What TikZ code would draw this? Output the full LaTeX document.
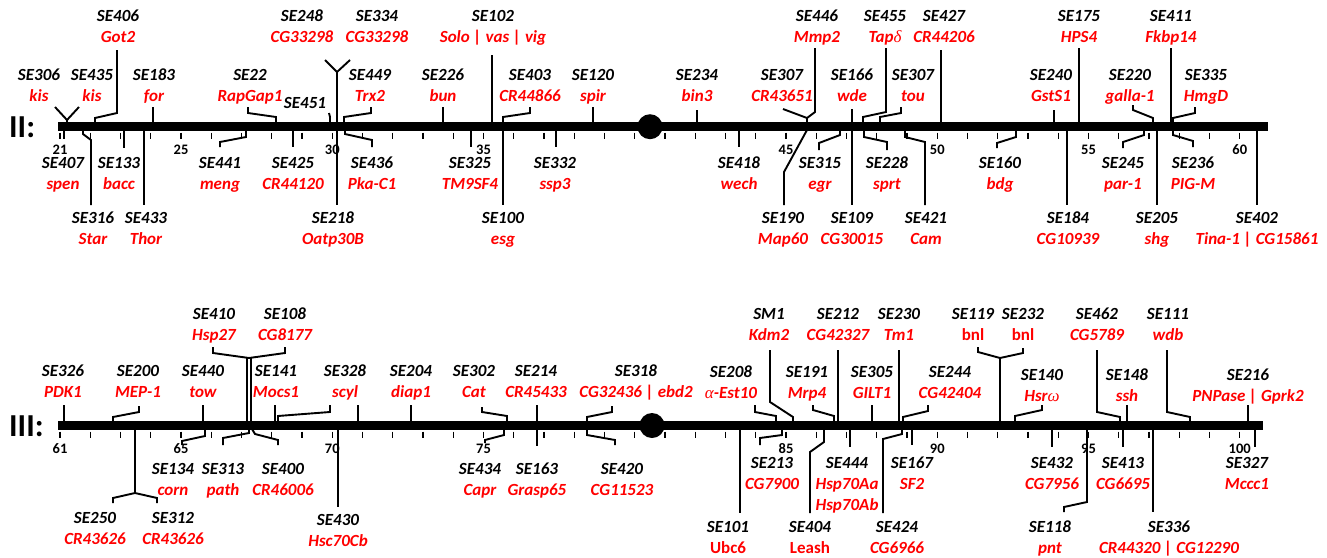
\documentclass[tikz,border=0pt]{standalone}
\usepackage{fontspec}
\setmainfont{Carlito}
\newfontfamily\grkfont{Liberation Serif}
\newcommand\gk[1]{{\grkfont\itshape\mdseries #1}}
\tikzset{
  se/.style={font=\fontsize{17}{19}\selectfont\bfseries\itshape, inner sep=0pt, anchor=base},
  gene/.style={se, text=red},
  geneup/.style={font=\fontsize{17}{19}\selectfont\bfseries, inner sep=0pt, anchor=base, text=red},
  mk/.style={line width=1.9pt},
  tk/.style={line width=1.4pt},
  num/.style={font=\fontsize{14.5}{14.5}\selectfont\bfseries, inner sep=0pt, anchor=base},
  chr/.style={font=\fontsize{32}{32}\selectfont\bfseries, inner sep=0pt, anchor=base west},
}
\newcommand\lbl[5]{\node[se] (#1) at (#2,#3+5.5) {#4};\node[gene] (#1g) at (#2,#3+26.5) {#5};}
\newcommand\lblu[5]{\node[se] (#1) at (#2,#3+5.5) {#4};\node[geneup] (#1g) at (#2,#3+26.5) {#5};}
\begin{document}
\begin{tikzpicture}[x=1pt,y=-1pt]
\useasboundingbox (0,0) rectangle (1327,557);
% ---------------- Chromosome II ----------------
\node[chr] (chrII) at (9,137) {II:};
\fill (58,122.2) rectangle (1268,131);
\fill (650,126.7) circle (12.5);
\foreach \u in {0,...,39} \draw[tk] ({60+\u*30.25},132.5) -- ++(0,6.5);
\foreach \u/\t in {0/21,4/25,9/30,14/35,24/45,29/50,34/55,39/60}
  \node[num] (nII\t) at ({60+\u*30.25},154) {\t};
% labels above
\lbl{a306}{39}{75}{SE306}{kis}
\lbl{a435}{92}{75}{SE435}{kis}
\lbl{a406}{118}{16}{SE406}{Got2}
\lbl{a183}{154}{75}{SE183}{for}
\lbl{a22}{250}{75}{SE22}{RapGap1}
\node[se] (a451) at (305,108.5) {SE451};
\lbl{a248}{302}{16}{SE248}{CG33298}
\lbl{a334}{377}{16}{SE334}{CG33298}
\lbl{a449}{370}{75}{SE449}{Trx2}
\lbl{a226}{443}{75}{SE226}{bun}
\lbl{a102}{493}{16}{SE102}{Solo | vas | vig}
\lbl{a403}{530}{75}{SE403}{CR44866}
\lbl{a120}{593}{75}{SE120}{spir}
\lbl{a234}{697}{75}{SE234}{bin3}
\lbl{a307}{782}{75}{SE307}{CR43651}
\lbl{a446}{817}{16}{SE446}{Mmp2}
\lbl{a166}{852}{75}{SE166}{wde}
\lbl{a455}{885}{16}{SE455}{Tap\gk{δ}}
\lbl{b307}{913}{75}{SE307}{tou}
\lbl{a427}{944}{16}{SE427}{CR44206}
\lbl{a240}{1051}{75}{SE240}{GstS1}
\lbl{a175}{1079}{16}{SE175}{HPS4}
\lbl{a220}{1130}{75}{SE220}{galla-1}
\lbl{a411}{1171}{16}{SE411}{Fkbp14}
\lbl{a335}{1206}{75}{SE335}{HmgD}
% labels below
\lbl{a407}{63}{163}{SE407}{spen}
\lbl{a133}{119}{163}{SE133}{bacc}
\lbl{a441}{220}{163}{SE441}{meng}
\lbl{a425}{293}{163}{SE425}{CR44120}
\lbl{a436}{372}{163}{SE436}{Pka-C1}
\lbl{a325}{470}{163}{SE325}{TM9SF4}
\lbl{a332}{555}{163}{SE332}{ssp3}
\lbl{a418}{739}{163}{SE418}{wech}
\lbl{a315}{820}{163}{SE315}{egr}
\lbl{a228}{887}{163}{SE228}{sprt}
\lbl{a160}{1000}{163}{SE160}{bdg}
\lbl{a245}{1123}{163}{SE245}{par-1}
\lbl{a236}{1193}{163}{SE236}{PIG-M}
\lbl{a316}{93}{218}{SE316}{Star}
\lbl{a433}{146}{218}{SE433}{Thor}
\lbl{a218}{333}{218}{SE218}{Oatp30B}
\lbl{a100}{503}{218}{SE100}{esg}
\lbl{a190}{783}{218}{SE190}{Map60}
\lbl{a109}{852}{218}{SE109}{CG30015}
\lbl{a421}{926}{218}{SE421}{Cam}
\lbl{a184}{1068}{218}{SE184}{CG10939}
\lbl{a205}{1157}{218}{SE205}{shg}
\lbl{a402}{1257}{218}{SE402}{Tina-1 | CG15861}
% connectors above
\draw[mk] (55,107) -- (67,120) -- (79,107);
\draw[mk] (67,120) -- (67,123);
\draw[mk] (117,50) -- (117,113) -- (95,118) -- (95,123);
\draw[mk] (153,107) -- (153,123);
\draw[mk] (248,107) -- (248,113) -- (276,117) -- (276,123);
\draw[mk] (329,113) -- (330,117) -- (330,123);
\draw[mk] (325,60) -- (337,72) -- (350,60);
\draw[mk] (337,72) -- (337,205);
\draw[mk] (371,107) -- (371,113) -- (344,117) -- (344,123);
\draw[mk] (443,107) -- (443,123);
\draw[mk] (492,55) -- (492,123);
\draw[mk] (530,107) -- (530,113) -- (503,117) -- (503,123);
\draw[mk] (593,107) -- (593,123);
\draw[mk] (697,110) -- (697,123);
\draw[mk] (783,109) -- (807,118) -- (807,123);
\draw[mk] (815,48) -- (815,112) -- (807,118);
\draw[mk] (852,109) -- (852,123);
\draw[mk] (886,48) -- (886,112) -- (863,117) -- (863,123);
\draw[mk] (901,107) -- (901,113) -- (880,117) -- (880,123);
\draw[mk] (941,50) -- (941,123);
\draw[mk] (1054,110) -- (1054,123);
\draw[mk] (1079,48) -- (1079,123);
\draw[mk] (1133,105) -- (1133,110) -- (1153,118) -- (1153,123);
\draw[mk] (1171,48) -- (1171,123);
\draw[mk] (1195,107) -- (1195,113) -- (1173,118) -- (1173,123);
% connectors below
\draw[mk] (64,130) -- (64,139);
\draw[mk] (124,130) -- (124,148);
\draw[mk] (83,130) -- (83,134) -- (91,140) -- (91,205);
\draw[mk] (144,130) -- (144,205);
\draw[mk] (246,130) -- (246,137) -- (220,142) -- (220,147);
\draw[mk] (293,130) -- (293,147);
\draw[mk] (345,130) -- (345,134) -- (372,140) -- (372,147);
\draw[mk] (471,130) -- (471,147);
\draw[mk] (503,130) -- (503,205);
\draw[mk] (556,130) -- (556,147);
\draw[mk] (739,130) -- (739,147);
\draw[mk] (807,130) -- (784,172) -- (784,205);
\draw[mk] (840,130) -- (840,135) -- (819,143) -- (819,150);
\draw[mk] (852,130) -- (852,205);
\draw[mk] (864,130) -- (864,137) -- (887,142) -- (887,150);
\draw[mk] (905,130) -- (905,137) -- (925,142) -- (925,205);
\draw[mk] (1016,130) -- (1016,137) -- (997,143) -- (997,148);
\draw[mk] (1067,130) -- (1067,205);
\draw[mk] (1144,130) -- (1144,135) -- (1123,142) -- (1123,148);
\draw[mk] (1157,130) -- (1157,205);
\draw[mk] (1173,130) -- (1173,135) -- (1193,141) -- (1193,147);
\draw[mk] (1257,130) -- (1257,205);
% ---------------- Chromosome III ----------------
\node[chr] (chrIII) at (9,436) {III:};
\fill (58,421.2) rectangle (1263,429.8);
\fill (652,425.5) circle (12.5);
\foreach \u in {0,...,39} \draw[tk] ({60+\u*30.25},431.5) -- ++(0,6.5);
\foreach \u/\t in {0/61,4/65,9/70,14/75,24/85,29/90,34/95,39/100}
  \node[num] (nIII\t) at ({60+\u*30.25},453) {\t};
% labels above
\lbl{c326}{63}{371}{SE326}{PDK1}
\lbl{c200}{138}{371}{SE200}{MEP-1}
\lbl{c440}{203}{371}{SE440}{tow}
\lbl{c410}{214}{314}{SE410}{Hsp27}
\lbl{c108}{285}{314}{SE108}{CG8177}
\lbl{c141}{276}{371}{SE141}{Mocs1}
\lbl{c328}{345}{371}{SE328}{scyl}
\lbl{c204}{411}{371}{SE204}{diap1}
\lbl{c302}{474}{371}{SE302}{Cat}
\lbl{c214}{536}{371}{SE214}{CR45433}
\lbl{c318}{636}{371}{SE318}{CG32436 | ebd2}
\lbl{c208}{731}{372}{SE208}{\gk{α}-Est10}
\lbl{c1}{769}{314}{SM1}{Kdm2}
\lbl{c191}{807}{372}{SE191}{Mrp4}
\lbl{c212}{838}{314}{SE212}{CG42327}
\lbl{c305}{872}{372}{SE305}{GILT1}
\lbl{c230}{899}{314}{SE230}{Tm1}
\lbl{c244}{950}{372}{SE244}{CG42404}
\lblu{c119}{973}{314}{SE119}{bnl}
\lblu{c232}{1023}{314}{SE232}{bnl}
\lbl{c140}{1042}{375}{SE140}{Hsr\gk{ω}}
\lbl{c462}{1097}{314}{SE462}{CG5789}
\lbl{c148}{1127}{375}{SE148}{ssh}
\lbl{c111}{1168}{314}{SE111}{wdb}
\lbl{c216}{1248}{375}{SE216}{PNPase | Gprk2}
% labels below
\lbl{c134}{173}{469}{SE134}{corn}
\lbl{c313}{223}{469}{SE313}{path}
\lbl{c400}{283}{469}{SE400}{CR46006}
\lbl{c434}{480}{469}{SE434}{Capr}
\lbl{c163}{537}{469}{SE163}{Grasp65}
\lbl{c420}{622}{469}{SE420}{CG11523}
\lbl{c213}{772}{463}{SE213}{CG7900}
\lbl{c444}{847}{463}{SE444}{Hsp70Aa}
\node[gene] (c444h) at (847,510) {Hsp70Ab};
\lbl{c167}{912}{463}{SE167}{SF2}
\lbl{c432}{1052}{463}{SE432}{CG7956}
\lbl{c413}{1123}{463}{SE413}{CG6695}
\lbl{c327}{1247}{463}{SE327}{Mccc1}
\lbl{c250}{95}{518}{SE250}{CR43626}
\lbl{c312}{173}{518}{SE312}{CR43626}
\lbl{c430}{338}{520}{SE430}{Hsc70Cb}
\lblu{c101}{728}{527}{SE101}{Ubc6}
\lblu{c404}{810}{527}{SE404}{Leash}
\lbl{c424}{897}{527}{SE424}{CG6966}
\lbl{c118}{1050}{527}{SE118}{pnt}
\lbl{c336}{1169}{527}{SE336}{CR44320 | CG12290}
% connectors above
\draw[mk] (64,405) -- (64,422);
\draw[mk] (139,406) -- (139,412) -- (113,417) -- (113,422);
\draw[mk] (203,405) -- (203,422);
\draw[mk] (213,347) -- (213,353) -- (249,358) -- (285,353) -- (285,347);
\draw[mk] (247,358) -- (247,422);
\draw[mk] (251,358) -- (251,422);
\draw[mk] (275,405) -- (275,422);
\draw[mk] (330,405) -- (330,412) -- (278,416) -- (278,422);
\draw[mk] (358,405) -- (358,422);
\draw[mk] (411,405) -- (411,422);
\draw[mk] (482,407) -- (482,412) -- (507,416) -- (507,422);
\draw[mk] (537,405) -- (537,422);
\draw[mk] (612,406) -- (612,412) -- (587,417) -- (587,422);
\draw[mk] (755,405) -- (755,412) -- (776,416) -- (776,422);
\draw[mk] (770,350) -- (770,402) -- (793,417) -- (793,422);
\draw[mk] (813,405) -- (813,410) -- (834,416) -- (834,422);
\draw[mk] (838,350) -- (838,422);
\draw[mk] (872,405) -- (872,422);
\draw[mk] (899,350) -- (899,422);
\draw[mk] (928,405) -- (928,411) -- (903,417) -- (903,422);
\draw[mk] (978,347) -- (978,352) -- (1000,358) -- (1023,353) -- (1023,348);
\draw[mk] (1000,358) -- (1000,422);
\draw[mk] (1042,405) -- (1042,410) -- (1015,416) -- (1015,422);
\draw[mk] (1097,350) -- (1097,412) -- (1120,417) -- (1120,422);
\draw[mk] (1127,405) -- (1127,422);
\draw[mk] (1167,350) -- (1167,412) -- (1190,417) -- (1190,422);
\draw[mk] (1248,405) -- (1248,422);
% connectors below
\draw[mk] (135,429) -- (135,493);
\draw[mk] (113,503) -- (113,498) -- (135,493) -- (157,498) -- (157,503);
\draw[mk] (205,429) -- (205,436) -- (182,441) -- (182,445);
\draw[mk] (249,429) -- (249,433) -- (223,438) -- (223,445);
\draw[mk] (252,429) -- (255,434) -- (278,440) -- (278,445);
\draw[mk] (338,429) -- (338,507);
\draw[mk] (504,429) -- (504,435) -- (485,440) -- (485,443);
\draw[mk] (537,429) -- (537,446);
\draw[mk] (587,429) -- (587,435) -- (615,440) -- (615,445);
\draw[mk] (740,429) -- (740,513);
\draw[mk] (782,429) -- (782,435) -- (760,438) -- (760,445);
\draw[mk] (824,429) -- (824,442) -- (810,452) -- (810,513);
\draw[mk] (850,429) -- (850,447);
\draw[mk] (902,429) -- (902,434) -- (883,439) -- (883,513);
\draw[mk] (912,429) -- (912,445);
\draw[mk] (1052,429) -- (1052,447);
\draw[mk] (1087,429) -- (1087,502) -- (1064,507) -- (1064,512);
\draw[mk] (1123,429) -- (1123,447);
\draw[mk] (1153,429) -- (1153,512);
\draw[mk] (1255,429) -- (1255,447);
\end{tikzpicture}
\end{document}
